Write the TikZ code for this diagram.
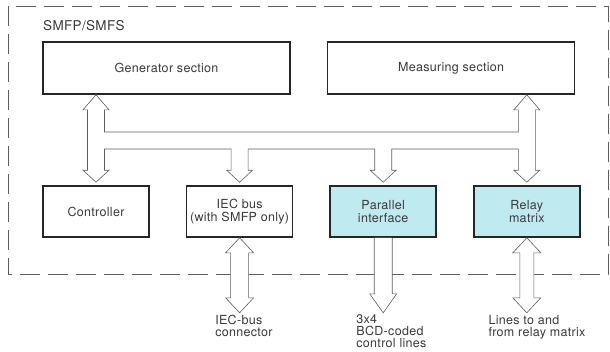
\documentclass[tikz,border=0pt]{standalone}
\usepackage{fontspec}
\setmainfont[LetterSpace=2.5]{TeX Gyre Heros}
\usepackage{tikz}
\usetikzlibrary{arrows.meta,positioning,calc}

\definecolor{boxcyan}{RGB}{191,234,240}
\definecolor{inkgray}{RGB}{58,58,58}
\definecolor{linegray}{RGB}{95,95,95}

\begin{document}
\begin{tikzpicture}[x=1pt,y=-1pt,
  every node/.style={font=\fontsize{12.5}{13.5}\selectfont,text=inkgray},
  unit/.style={rectangle,draw=black!85,line width=1.6pt,fill=white,
               minimum width=106pt,minimum height=51pt,align=center,inner sep=0pt},
  section/.style={unit,minimum width=247pt,minimum height=52pt},
  port/.style={unit,fill=boxcyan},
  frame/.style={draw=linegray,line width=0.8pt,dash pattern=on 20pt off 8pt},
  bus/.style={draw=linegray,line width=0.6pt,fill=white,line join=miter},
  lbl/.style={align=left,anchor=north west,inner sep=0pt,
              font=\fontsize{12.5}{12}\selectfont}
]
\useasboundingbox (0,0) rectangle (610,351);

% dashed outline of the instrument
\draw[frame] (8,6) rectangle (608,274);
\node[anchor=west,inner sep=0pt,font=\fontsize{13.5}{15}\selectfont] (title) at (43,26) {SMFP/SMFS};

\node[section] (gen)  at (166.5,68) {Generator section};
\node[section] (meas) [right=36pt of gen] {Measuring section};

\node[unit] (ctrl) at (96,211.5)            {Controller};
\node[unit] (iec)  [right=36pt of ctrl]      {IEC bus\\(with SMFP only)};
\node[port] (par)  [right=36pt of iec]       {Parallel\\interface};
\node[port] (rel)  [right=36pt of par]       {Relay\\matrix};

% internal bus levels
\coordinate (busA) at (0,132);
\coordinate (busB) at (0,149);

% internal bus
\draw[bus]
  (ctrl.north |- gen.south) -- ++(13,15) -- ++(-4.5,0)
  |- ($(rel.north |- busA)+(-8.5,0)$)
  -- ($(rel.north |- meas.south)+(-8.5,15)$) -- ++(-4.5,0)
  -- (rel.north |- meas.south) -- ++(13,15) -- ++(-4.5,0)
  -- ($(rel.north)+(8.5,-15)$) -- ++(4.5,0)
  -- ($(rel.north)+(0,-3)$) -- ++(-13,-12) -- ++(4.5,0)
  |- ($(par.north |- busB)+(8.5,0)$)
  -- ($(par.north)+(8.5,-15)$) -- ++(4.5,0)
  -- ($(par.north)+(0,-3)$) -- ++(-13,-12) -- ++(4.5,0)
  |- ($(iec.north |- busB)+(8.5,0)$)
  -- ($(iec.north)+(8.5,-15)$) -- ++(4.5,0)
  -- ($(iec.north)+(0,-3)$) -- ++(-13,-12) -- ++(4.5,0)
  |- ($(ctrl.north |- busB)+(8.5,0)$)
  -- ($(ctrl.north)+(8.5,-15)$) -- ++(4.5,0)
  -- ($(ctrl.north)+(0,-3)$) -- ++(-13,-12) -- ++(4.5,0)
  -- ($(ctrl.north |- gen.south)+(-8.5,15)$) -- ++(-4.5,0) -- cycle;

% outside connections
\coordinate (iecend) at ($(iec.south)+(0,75)$);
\coordinate (parend) at ($(par.south)+(0,75)$);
\coordinate (relend) at ($(rel.south)+(0,75)$);

\draw[bus] (iec.south) -- ++(14,15) -- ++(-5,0) |- ($(iecend)+(9,-15)$)
  -- ++(5,0) -- (iecend) -- ++(-14,-15) -- ++(5,0)
  |- ($(iec.south)+(-9,15)$) -- ++(-5,0) -- cycle;
\draw[bus] ($(par.south)+(9,0)$) |- ($(parend)+(9,-19)$) -- ++(4.5,0)
  -- (parend) -- ++(-13.5,-19) -- ++(4.5,0) -- ($(par.south)+(-9,0)$);
\draw[bus] (rel.south) -- ++(14,15) -- ++(-7,0) |- ($(relend)+(7,-15)$)
  -- ++(7,0) -- (relend) -- ++(-14,-15) -- ++(7,0)
  |- ($(rel.south)+(-7,15)$) -- ++(-7,0) -- cycle;

\node[lbl] (iecl) at ($(iecend)+(-24.5,2)$) {IEC-bus\\connector};
\node[lbl] (parl) at ($(parend)+(-27,2)$)   {3x4\\BCD-coded\\control lines};
\node[lbl] (rell) at ($(relend)+(-38.5,2)$) {Lines to and\\from relay matrix};
\end{tikzpicture}
\end{document}
